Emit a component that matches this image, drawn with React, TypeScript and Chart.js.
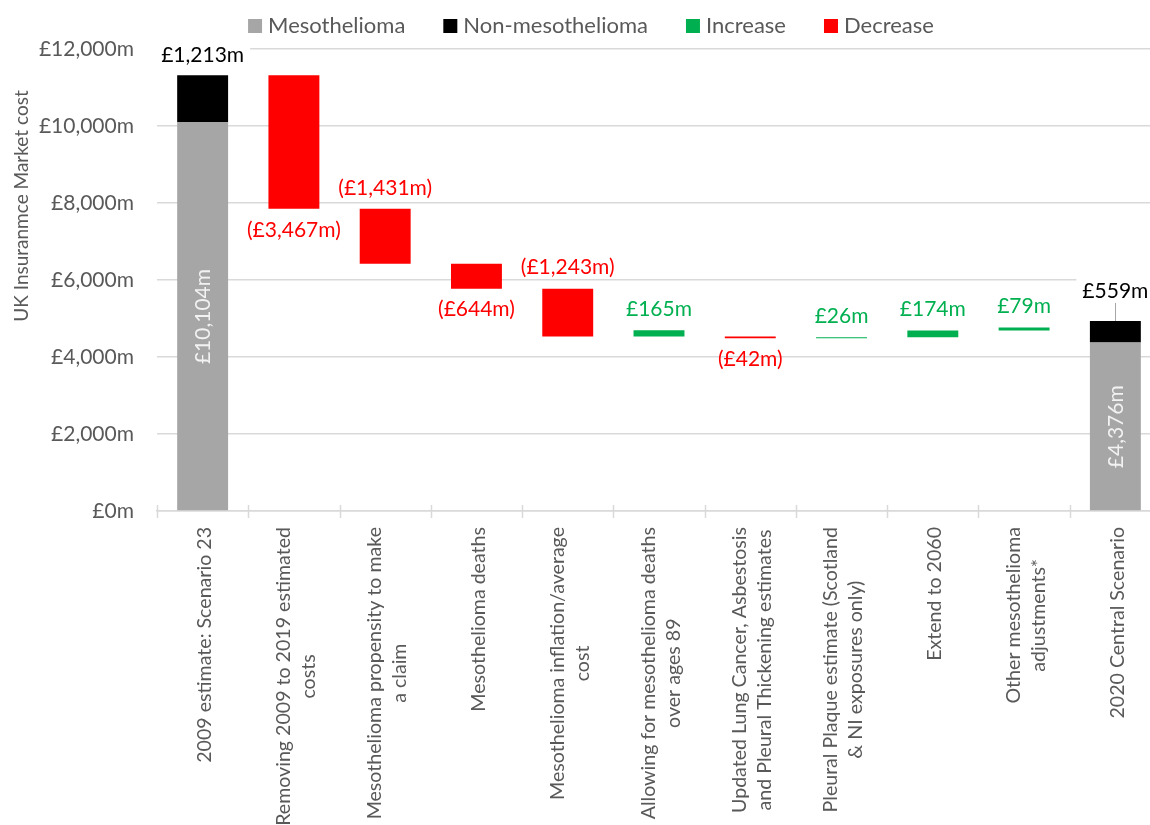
import React, { useEffect, useRef } from 'react';
import { Chart, registerables } from 'chart.js';

Chart.register(...registerables);

// ---------- data ----------
const categories: string[][] = [
  ['2009 estimate: Scenario 23'],
  ['Removing 2009 to 2019 estimated', 'costs'],
  ['Mesothelioma propensity to make', 'a claim'],
  ['Mesothelioma deaths'],
  ['Mesothelioma inflation/average', 'cost'],
  ['Allowing for mesothelioma deaths', 'over ages 89'],
  ['Updated Lung Cancer, Asbestosis', 'and Pleural Thickening estimates'],
  ['Pleural Plaque estimate (Scotland', '& NI exposures only)'],
  ['Extend to 2060'],
  ['Other mesothelioma', 'adjustments*'],
  ['2020 Central Scenario'],
];

const mesothelioma: (number | null)[] = [10104, null, null, null, null, null, null, null, null, null, 4376];
const nonMesothelioma: (number | null)[] = [1213, null, null, null, null, null, null, null, null, null, 559];
// change of each step, and the level at which each step's bar starts (as drawn in the picture)
const stepValues: (number | null)[] = [null, -3467, -1431, -644, -1243, 165, -42, 26, 174, 79, null];
const stepStart: (number | null)[] = [null, 11317, 7850, 6419, 5775, 4532, 4532, 4490, 4516, 4690, null];
const labelSide: string[] = ['above', 'below', 'above', 'below', 'above', 'above', 'below', 'above', 'above', 'above', 'above'];

const yMin = 0;
const yMax = 12000;
const yStep = 2000;
const yTitle = 'UK Insuranmce Market cost';
const seriesNames = ['Mesothelioma', 'Non-mesothelioma', 'Increase', 'Decrease'];

// ---------- styles ----------
const FONT = 'Lato';
const GREY = '#A6A6A6';
const BLACK = '#000000';
const GREEN = '#00B050';
const RED = '#FF0000';
const TEXT = '#595959';
const GRID = '#D9D9D9';

const money = (v: number) => '£' + Math.abs(v).toLocaleString('en-GB') + 'm';

const decorPlugin = {
  id: 'decor',
  afterDraw(chart: any) {
    const ctx: CanvasRenderingContext2D = chart.ctx;
    const xs = chart.scales.x;
    const ys = chart.scales.y;
    const area = chart.chartArea;
    const n = categories.length;
    ctx.save();

    // cross tick marks on the category axis
    ctx.strokeStyle = GRID;
    ctx.lineWidth = 1.5;
    for (let i = 0; i <= n; i++) {
      const px = Math.round(xs.getPixelForValue(i - 0.5)) + 0.5;
      ctx.beginPath();
      ctx.moveTo(px, area.bottom - 6);
      ctx.lineTo(px, area.bottom + 7);
      ctx.stroke();
    }

    // category labels (rotated, lines centred on each other, block top-aligned)
    const xFont = 19.6;
    const xLine = 25;
    ctx.font = `${xFont}px ${FONT}`;
    ctx.fillStyle = TEXT;
    ctx.textAlign = 'center';
    ctx.textBaseline = 'middle';
    categories.forEach((lines, i) => {
      const cx = xs.getPixelForValue(i) + 2;
      const L = Math.max(...lines.map((l) => ctx.measureText(l).width));
      lines.forEach((line, j) => {
        const lx = cx + (j - (lines.length - 1) / 2) * xLine;
        const ly = area.bottom + 16 + L / 2;
        ctx.save();
        ctx.translate(lx, ly);
        ctx.rotate(-Math.PI / 2);
        ctx.fillText(line, 0, 0);
        ctx.restore();
      });
    });

    // y-axis title
    ctx.font = `19px ${FONT}`;
    ctx.fillStyle = TEXT;
    ctx.save();
    ctx.translate(22, 206);
    ctx.rotate(-Math.PI / 2);
    ctx.fillText(yTitle, 0, 0);
    ctx.restore();

    // step labels
    const lblFont = 21;
    ctx.font = `${lblFont}px ${FONT}`;
    stepValues.forEach((v, i) => {
      const s = stepStart[i];
      if (v == null || s == null) return;
      const top = ys.getPixelForValue(Math.max(s, s + v));
      const bot = ys.getPixelForValue(Math.min(s, s + v));
      const cy = labelSide[i] === 'above' ? top - 21 : bot + 21;
      ctx.fillStyle = v > 0 ? GREEN : RED;
      const txt = v > 0 ? money(v) : '(' + money(v) + ')';
      ctx.fillText(txt, xs.getPixelForValue(i), cy);
    });

    // totals: inner rotated mesothelioma value and outside non-meso value
    mesothelioma.forEach((m, i) => {
      const nm = nonMesothelioma[i];
      if (m == null) return;
      const cx = xs.getPixelForValue(i);
      const midY = (ys.getPixelForValue(0) + ys.getPixelForValue(m)) / 2;
      ctx.save();
      ctx.fillStyle = '#F2F2F2';
      ctx.translate(cx + 1, midY);
      ctx.rotate(-Math.PI / 2);
      ctx.fillText(money(m), 0, 0);
      ctx.restore();
      if (nm == null) return;
      const top = ys.getPixelForValue(m + nm);
      const last = i === n - 1;
      const gap = last ? 30 : 20;
      const cy = top - gap;
      const txt = money(nm);
      const w = ctx.measureText(txt).width;
      ctx.fillStyle = '#FFFFFF';
      ctx.fillRect(cx - w / 2 - 6, cy - 12, w + 12, 24);
      if (last) {
        ctx.strokeStyle = GREY;
        ctx.lineWidth = 1;
        ctx.beginPath();
        ctx.moveTo(Math.round(cx) + 0.5, cy + 12);
        ctx.lineTo(Math.round(cx) + 0.5, top);
        ctx.stroke();
      }
      ctx.fillStyle = BLACK;
      ctx.fillText(txt, cx, cy);
    });

    // legend
    const colors = chart.data.datasets.map((d: any) => d.backgroundColor);
    ctx.font = `22px ${FONT}`;
    const box = 14, boxGap = 6, itemGap = 38;
    const widths = seriesNames.map((s) => box + boxGap + ctx.measureText(s).width);
    const total = widths.reduce((a, b) => a + b, 0) + itemGap * (seriesNames.length - 1);
    let lx = 591 - total / 2;
    ctx.textAlign = 'left';
    seriesNames.forEach((s, k) => {
      ctx.fillStyle = colors[k];
      ctx.fillRect(lx, 19, box, box);
      ctx.fillStyle = TEXT;
      ctx.fillText(s, lx + box + boxGap, 26);
      lx += widths[k] + itemGap;
    });

    ctx.restore();
  },
};

export default function App() {
  const ref = useRef<HTMLCanvasElement | null>(null);

  useEffect(() => {
    if (!ref.current) return;
    const nonMesoBars = mesothelioma.map((m, i) => {
      const nm = nonMesothelioma[i];
      return m == null || nm == null ? null : [m, m + nm];
    });
    const incBars = stepValues.map((v, i) => {
      const s = stepStart[i];
      return v != null && s != null && v > 0 ? [s, s + v] : null;
    });
    const decBars = stepValues.map((v, i) => {
      const s = stepStart[i];
      return v != null && s != null && v < 0 ? [s + v, s] : null;
    });
    const common = { borderWidth: 0, categoryPercentage: 1, barPercentage: 0.558 };
    const chart = new Chart(ref.current, {
      type: 'bar',
      data: {
        labels: categories as any,
        datasets: [
          { label: seriesNames[0], data: mesothelioma as any, backgroundColor: GREY, ...common },
          { label: seriesNames[1], data: nonMesoBars as any, backgroundColor: BLACK, ...common },
          { label: seriesNames[2], data: incBars as any, backgroundColor: GREEN, ...common },
          { label: seriesNames[3], data: decBars as any, backgroundColor: RED, ...common },
        ],
      },
      options: {
        responsive: false,
        animation: false,
        events: [],
        layout: { padding: { top: 49, left: 0, right: 0, bottom: 0 } },
        plugins: {
          legend: { display: false },
          tooltip: { enabled: false },
          title: { display: false },
        },
        scales: {
          x: {
            type: 'category',
            stacked: true,
            offset: true,
            grid: { display: false },
            border: { display: true, color: GRID, width: 1.5 },
            ticks: { display: false },
            afterFit: (s: any) => {
              s.height = 314;
            },
          },
          y: {
            stacked: false,
            min: yMin,
            max: yMax,
            grid: { color: GRID, lineWidth: 1.5, drawTicks: false },
            border: { display: false },
            ticks: {
              stepSize: yStep,
              padding: 23,
              color: TEXT,
              font: { family: FONT, size: 21 },
              callback: (v: any) => money(Number(v)),
            },
            afterFit: (s: any) => {
              s.width = 157;
            },
          },
        },
      },
      plugins: [decorPlugin],
    });
    return () => chart.destroy();
  }, []);

  return (
    <div
      style={{
        position: 'fixed',
        left: 0,
        top: 0,
        width: 1150,
        height: 825,
        overflow: 'hidden',
        background: '#FFFFFF',
      }}
    >
      <canvas ref={ref} width={1161} height={825} style={{ display: 'block' }} />
    </div>
  );
}
